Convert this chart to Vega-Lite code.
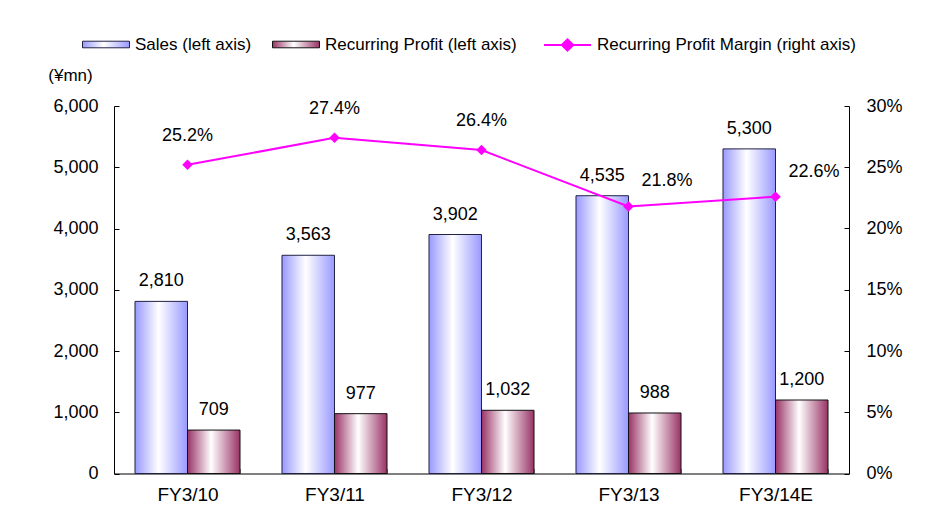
{
  "$schema": "https://vega.github.io/schema/vega-lite/v6.json",
  "width": 735,
  "height": 367.5,
  "autosize": {"type": "none"},
  "padding": {"left": 114, "top": 106, "right": 77, "bottom": 58.5},
  "background": "white",
  "config": {
    "view": {"stroke": null},
    "font": "Liberation Sans",
    "axis": {
      "domainColor": "#000000",
      "tickColor": "#000000",
      "labelColor": "#000000",
      "labelFont": "Liberation Sans",
      "labelFontSize": 18,
      "grid": false,
      "tickSize": -5,
      "titleColor": "#000000",
      "titleFont": "Liberation Sans"
    },
    "legend": {
      "orient": "none",
      "direction": "horizontal",
      "title": null,
      "symbolSize": 2209,
      "symbolStrokeWidth": 1,
      "labelFontSize": 17,
      "labelFont": "Liberation Sans",
      "labelColor": "#000000",
      "labelLimit": 400,
      "labelOffset": 5,
      "padding": 0
    }
  },
  "data": {
    "values": [
      {"year": "FY3/10", "sales": 2810, "profit": 709, "margin": 0.252},
      {"year": "FY3/11", "sales": 3563, "profit": 977, "margin": 0.274},
      {"year": "FY3/12", "sales": 3902, "profit": 1032, "margin": 0.264},
      {"year": "FY3/13", "sales": 4535, "profit": 988, "margin": 0.218},
      {"year": "FY3/14E", "sales": 5300, "profit": 1200, "margin": 0.226}
    ]
  },
  "encoding": {
    "x": {
      "field": "year",
      "type": "nominal",
      "sort": null,
      "scale": {"paddingInner": 0.2857, "paddingOuter": 0.14285},
      "axis": {
        "title": null,
        "labelAngle": 0,
        "tickBand": "extent",
        "tickColor": "#888888",
        "labelPadding": 17,
        "labelFontSize": 19
      }
    }
  },
  "layer": [
    {
      "layer": [
        {
          "mark": {
            "type": "bar",
            "strokeWidth": 1,
            "fill": {
              "gradient": "linear", "x1": 0, "y1": 0, "x2": 1, "y2": 0,
              "stops": [
                {"offset": 0, "color": "#9999ff"},
                {"offset": 0.45, "color": "#ffffff"},
                {"offset": 1, "color": "#9999ff"}
              ]
            }
          },
          "encoding": {
            "xOffset": {"datum": "Sales", "scale": {"domain": ["Sales", "Profit"]}},
            "y": {
              "field": "sales",
              "type": "quantitative",
              "scale": {"domain": [0, 6000], "nice": false},
              "axis": {
                "values": [0, 1000, 2000, 3000, 4000, 5000, 6000],
                "format": ",.0f",
                "labelPadding": 21,
                "title": "(¥mn)",
                "titleAngle": 0,
                "titleX": -44,
                "titleY": -31,
                "titleAlign": "center",
                "titleBaseline": "middle",
                "titleFontSize": 17,
                "titleFontWeight": "normal"
              }
            },
            "stroke": {
              "datum": "Sales (left axis)",
              "type": "nominal",
              "scale": {"domain": ["Sales (left axis)"], "range": ["#222244"]},
              "legend": {
                "legendX": -32,
                "legendY": -85.5,
                "symbolType": "M-1,-0.14H1V0.14H-1Z"
              }
            }
          }
        },
        {
          "mark": {
            "type": "bar",
            "strokeWidth": 1,
            "fill": {
              "gradient": "linear", "x1": 0, "y1": 0, "x2": 1, "y2": 0,
              "stops": [
                {"offset": 0, "color": "#993366"},
                {"offset": 0.45, "color": "#ffffff"},
                {"offset": 1, "color": "#993366"}
              ]
            }
          },
          "encoding": {
            "xOffset": {"datum": "Profit", "scale": {"domain": ["Sales", "Profit"]}},
            "y": {"field": "profit", "type": "quantitative"},
            "stroke": {
              "datum": "Recurring Profit (left axis)",
              "type": "nominal",
              "scale": {"domain": ["Recurring Profit (left axis)"], "range": ["#111111"]},
              "legend": {
                "legendX": 158,
                "legendY": -85.5,
                "symbolType": "M-1,-0.14H1V0.14H-1Z"
              }
            }
          }
        },
        {
          "mark": {"type": "text", "fontSize": 18, "baseline": "alphabetic", "dy": -15, "color": "#000000"},
          "encoding": {
            "xOffset": {"datum": "Sales"},
            "y": {"field": "sales", "type": "quantitative"},
            "text": {"field": "sales", "type": "quantitative", "format": ","}
          }
        },
        {
          "mark": {"type": "text", "fontSize": 18, "baseline": "alphabetic", "dy": -15, "color": "#000000"},
          "encoding": {
            "xOffset": {"datum": "Profit"},
            "y": {"field": "profit", "type": "quantitative"},
            "text": {"field": "profit", "type": "quantitative", "format": ","}
          }
        }
      ],
      "resolve": {"scale": {"stroke": "independent"}}
    },
    {
      "layer": [
        {
          "mark": {"type": "line", "strokeWidth": 2},
          "encoding": {
            "y": {
              "field": "margin",
              "type": "quantitative",
              "scale": {"domain": [0, 0.3], "nice": false},
              "axis": {
                "orient": "right",
                "values": [0, 0.05, 0.1, 0.15, 0.2, 0.25, 0.3],
                "format": ".0%",
                "labelPadding": 22,
                "title": null
              }
            },
            "stroke": {
              "datum": "Recurring Profit Margin (right axis)",
              "type": "nominal",
              "scale": {"domain": ["Recurring Profit Margin (right axis)"], "range": ["#ff00ff"]},
              "legend": {
                "legendX": 429,
                "legendY": -85.5,
                "symbolType": "M-1,0H1M-0.24,0L0,-0.24L0.24,0L0,0.24Z",
                "symbolFillColor": "#ff00ff",
                "symbolStrokeWidth": 2
              }
            }
          }
        },
        {
          "mark": {"type": "point", "shape": "diamond", "filled": true, "color": "#ff00ff", "size": 110, "opacity": 1},
          "encoding": {
            "y": {"field": "margin", "type": "quantitative"}
          }
        },
        {
          "transform": [{"filter": {"field": "year", "oneOf": ["FY3/10", "FY3/11", "FY3/12"]}}],
          "mark": {"type": "text", "fontSize": 18, "baseline": "middle", "dy": -29, "color": "#000000"},
          "encoding": {
            "y": {"field": "margin", "type": "quantitative"},
            "text": {"field": "margin", "type": "quantitative", "format": ".1%"}
          }
        },
        {
          "transform": [{"filter": {"field": "year", "oneOf": ["FY3/13", "FY3/14E"]}}],
          "mark": {"type": "text", "fontSize": 18, "baseline": "middle", "align": "left", "dx": 13, "dy": -25, "color": "#000000"},
          "encoding": {
            "y": {"field": "margin", "type": "quantitative"},
            "text": {"field": "margin", "type": "quantitative", "format": ".1%"}
          }
        }
      ]
    }
  ],
  "resolve": {"scale": {"y": "independent", "stroke": "independent"}}
}
